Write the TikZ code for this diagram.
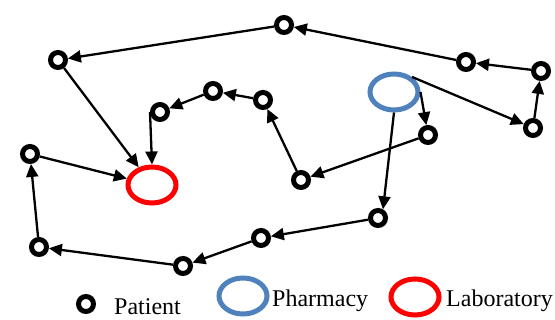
\documentclass[tikz,border=0pt]{standalone}
\usepackage{fontspec}
\setmainfont{Liberation Serif}
\usetikzlibrary{shapes.geometric, arrows.meta, positioning}
\definecolor{PharmBlue}{RGB}{79, 129, 189}
\definecolor{LabRed}{RGB}{255, 0, 0}

\begin{document}
\begin{tikzpicture}[x=1pt,y=-1pt,
  patient/.style={circle, draw=black, line width=5pt, minimum size=15pt, inner sep=0pt},
  pharmacy/.style={ellipse, draw=PharmBlue, line width=5pt, minimum width=48pt, minimum height=36pt, inner sep=0pt},
  laboratory/.style={ellipse, draw=LabRed, line width=5pt, minimum width=48pt, minimum height=36pt, inner sep=0pt},
  route/.style={-{Triangle[length=13pt,width=12pt]}, line width=2.3pt},
  legendtext/.style={anchor=base west, inner sep=0pt, font=\fontsize{24}{28}\selectfont}]
  \path[use as bounding box] (0,0) rectangle (555,320);

  % patients
  \node[patient] (p1) at (284,25) {};
  \node[patient] (p2) at (58,60) {};
  \node[patient] (p3) at (213,91) {};
  \node[patient] (p4) at (263,100) {};
  \node[patient] (p5) at (160,112) {};
  \node[patient] (p6) at (466,62) {};
  \node[patient] (p7) at (541,71) {};
  \node[patient] (p8) at (533,128) {};
  \node[patient] (p9) at (428,135) {};
  \node[patient] (p10) at (30,154) {};
  \node[patient] (p11) at (301,180) {};
  \node[patient] (p12) at (378,218) {};
  \node[patient] (p13) at (261,238) {};
  \node[patient] (p14) at (183,266) {};
  \node[patient] (p15) at (39,247) {};

  % service points
  \node[pharmacy] (pharm) at (394,92) {};
  \node[laboratory] (lab) at (152,185) {};

  % routes
  \draw[route] (pharm.40) -- (p8);
  \draw[route] (p8) -- (p7);
  \draw[route] (p7) -- (p6);
  \draw[route] (p6) -- (p1);
  \draw[route] (p1) -- (p2);
  \draw[route] (p2) -- (lab);
  \draw[route] (pharm.east) -- (p9);
  \draw[route] (p9) -- (p11);
  \draw[route] (p11) -- (p4);
  \draw[route] (p4) -- (p3);
  \draw[route] (p3) -- (p5);
  \draw[route] (p5.west) -- (lab.north);
  \draw[route] (pharm.south) -- (p12.60);
  \draw[route] (p12) -- (p13);
  \draw[route] (p13) -- (p14);
  \draw[route] (p14) -- (p15);
  \draw[route] (p15) -- (p10);
  \draw[route] (p10) -- (lab);

  % legend
  \node[patient] (keypat) at (86,304) {};
  \node[legendtext] (keypattext) at (114,315) {Patient};
  \node[pharmacy] (keypharm) at (243,296) {};
  \node[legendtext] (keypharmtext) at (272,307) {Pharmacy};
  \node[laboratory] (keylab) at (415,297) {};
  \node[legendtext] (keylabtext) at (446,307) {Laboratory};
\end{tikzpicture}
\end{document}
